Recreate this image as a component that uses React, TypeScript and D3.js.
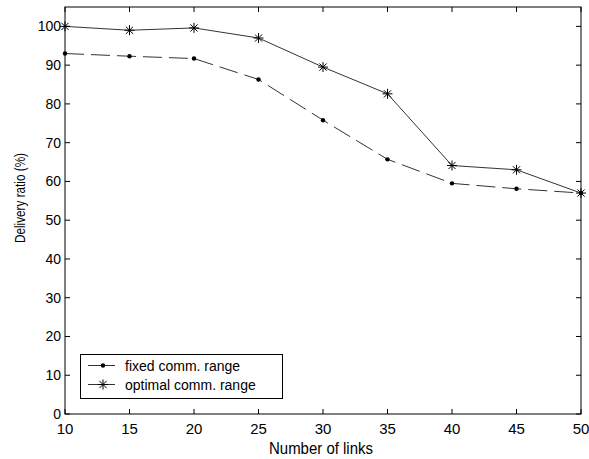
import React from "react";
import * as d3 from "d3";

const links = [10, 15, 20, 25, 30, 35, 40, 45, 50];
const fixedRange = [93, 92.3, 91.7, 86.3, 75.8, 65.7, 59.5, 58.1, 57];
const optimalRange = [100, 99, 99.6, 97, 89.5, 82.6, 64.1, 63, 57];
const xTicks = [10, 15, 20, 25, 30, 35, 40, 45, 50];
const yTicks = [0, 10, 20, 30, 40, 50, 60, 70, 80, 90, 100];

export default function App() {
    const ref = React.useRef<SVGSVGElement>(null);

    React.useEffect(() => {
        const width = 589;
        const height = 459;
        const marginLeft = 65;
        const marginRight = 8;
        const marginTop = 7;
        const marginBottom = 45;
        const font = "Liberation Sans, Arial, sans-serif";

        const x = d3
            .scaleLinear()
            .domain([10, 50])
            .range([marginLeft, width - marginRight]);
        const y = d3
            .scaleLinear()
            .domain([0, 105])
            .range([height - marginBottom, marginTop]);

        const svg = d3
            .select(ref.current)
            .attr("width", width)
            .attr("height", height)
            .attr("viewBox", [0, 0, width, height])
            .style("display", "block")
            .style("background", "#fff");

        const x0 = marginLeft, x1 = width - marginRight;
        const y0 = height - marginBottom, y1 = marginTop;

        // box
        svg.append("rect")
            .attr("x", x0)
            .attr("y", y1)
            .attr("width", x1 - x0)
            .attr("height", y0 - y1)
            .attr("fill", "none")
            .attr("stroke", "#000")
            .attr("stroke-width", 1);

        const tick = 5;
        const ticks = svg.append("g").attr("stroke", "#000").attr("stroke-width", 1);
        xTicks.forEach((t) => {
            ticks.append("line").attr("x1", x(t)).attr("x2", x(t)).attr("y1", y0).attr("y2", y0 - tick);
            ticks.append("line").attr("x1", x(t)).attr("x2", x(t)).attr("y1", y1).attr("y2", y1 + tick);
        });
        yTicks.forEach((t) => {
            ticks.append("line").attr("x1", x0).attr("x2", x0 + tick).attr("y1", y(t)).attr("y2", y(t));
            ticks.append("line").attr("x1", x1).attr("x2", x1 - tick).attr("y1", y(t)).attr("y2", y(t));
        });

        svg.append("g")
            .selectAll("text")
            .data(xTicks)
            .join("text")
            .attr("x", (d) => x(d))
            .attr("y", y0 + 20)
            .attr("text-anchor", "middle")
            .attr("font-family", font)
            .attr("font-size", 15)
            .text((d) => d);

        svg.append("g")
            .selectAll("text")
            .data(yTicks)
            .join("text")
            .attr("x", x0 - 4)
            .attr("y", (d) => y(d) + 5)
            .attr("text-anchor", "end")
            .attr("font-family", font)
            .attr("font-size", 14)
            .text((d) => d);

        svg.append("text")
            .attr("x", 321)
            .attr("y", 454)
            .attr("text-anchor", "middle")
            .attr("font-family", font)
            .attr("font-size", 16)
            .attr("textLength", 104)
            .attr("lengthAdjust", "spacingAndGlyphs")
            .text("Number of links");

        svg.append("text")
            .attr("transform", `translate(25,198) rotate(-90)`)
            .attr("text-anchor", "middle")
            .attr("font-family", font)
            .attr("font-size", 14)
            .attr("textLength", 90)
            .attr("lengthAdjust", "spacingAndGlyphs")
            .text("Delivery ratio (%)");

        const line = d3
            .line<number>()
            .x((d, i) => x(links[i]))
            .y((d) => y(d));

        const lineColor = "#333";

        svg.append("path")
            .datum(fixedRange)
            .attr("d", line)
            .attr("fill", "none")
            .attr("stroke", lineColor)
            .attr("stroke-width", 1)
            .attr("stroke-dasharray", "19,7");

        svg.append("path")
            .datum(optimalRange)
            .attr("d", line)
            .attr("fill", "none")
            .attr("stroke", lineColor)
            .attr("stroke-width", 1);

        const dot = (g: any, cx: number, cy: number) => {
            g.append("circle").attr("cx", cx).attr("cy", cy).attr("r", 2.2).attr("fill", "#000");
        };
        const star = (g: any, cx: number, cy: number) => {
            const s = 5;
            const d = 3.6;
            const p = g.append("g").attr("stroke", "#000").attr("stroke-width", 1);
            p.append("line").attr("x1", cx - s).attr("x2", cx + s).attr("y1", cy).attr("y2", cy);
            p.append("line").attr("x1", cx).attr("x2", cx).attr("y1", cy - s).attr("y2", cy + s);
            p.append("line").attr("x1", cx - d).attr("x2", cx + d).attr("y1", cy - d).attr("y2", cy + d);
            p.append("line").attr("x1", cx - d).attr("x2", cx + d).attr("y1", cy + d).attr("y2", cy - d);
        };

        const marks = svg.append("g");
        fixedRange.forEach((v, i) => dot(marks, x(links[i]), y(v)));
        optimalRange.forEach((v, i) => star(marks, x(links[i]), y(v)));

        // legend
        const lg = svg.append("g");
        lg.append("rect")
            .attr("x", 80.5)
            .attr("y", 354.5)
            .attr("width", 202)
            .attr("height", 44)
            .attr("fill", "#fff")
            .attr("stroke", "#000")
            .attr("stroke-width", 1);
        const entries = [
            { label: "fixed comm. range", yy: 365.5, mark: dot },
            { label: "optimal comm. range", yy: 384.5, mark: star },
        ];
        entries.forEach((e) => {
            lg.append("line")
                .attr("x1", 88)
                .attr("x2", 115)
                .attr("y1", e.yy)
                .attr("y2", e.yy)
                .attr("stroke", lineColor)
                .attr("stroke-width", 1);
            e.mark(lg, 103, e.yy);
            lg.append("text")
                .attr("x", 125)
                .attr("y", e.yy + 5)
                .attr("font-family", font)
                .attr("font-size", 14)
                .text(e.label);
        });

        return () => {
            svg.selectAll("*").remove();
        };
    }, []);

    return <svg ref={ref} style={{ position: "absolute", left: 0, top: 0 }}></svg>;
}
